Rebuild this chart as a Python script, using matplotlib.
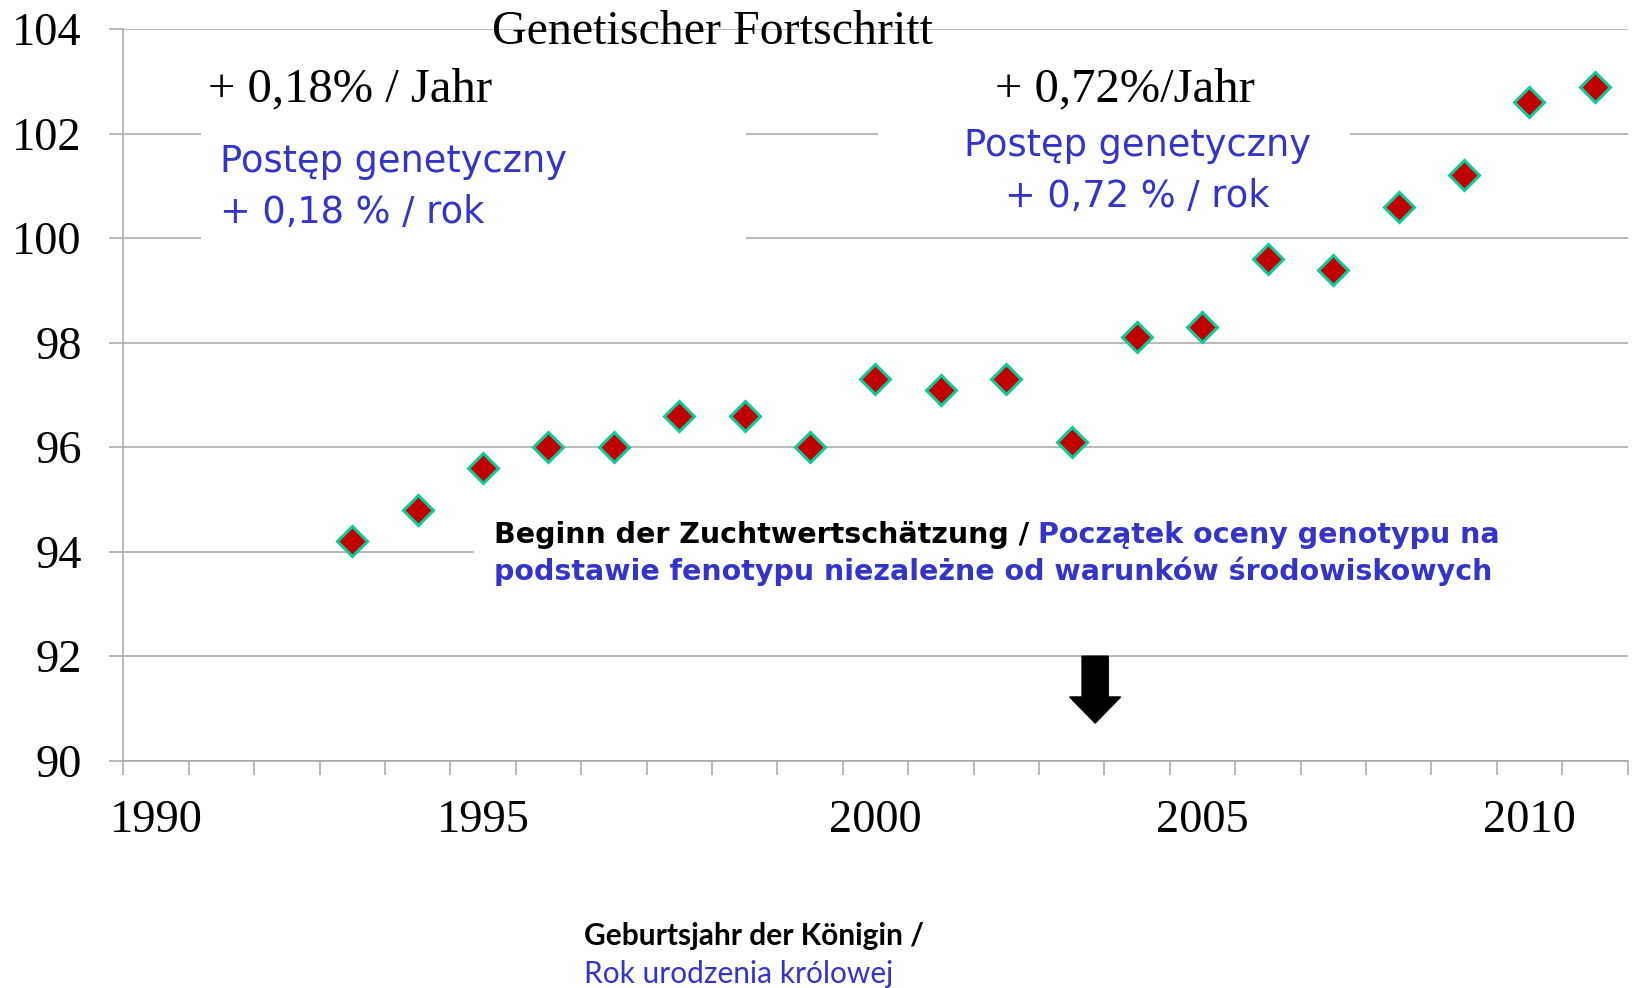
import numpy as np
import matplotlib
matplotlib.use("Agg")
import matplotlib.pyplot as plt
from matplotlib.patches import Rectangle, FancyArrow

# -----------------------------
# DANE
# -----------------------------

category_labels = ["1990", "", "", "", "", "1995", "", "", "", "", "",
                   "2000", "", "", "", "", "2005", "", "", "", "", "2010", ""]

# indeks hodowlany (brak danych dla pierwszych trzech kategorii)
values = [np.nan, np.nan, np.nan,
          94.2, 94.8, 95.6, 96.0, 96.0, 96.6, 96.6, 96.0, 97.3, 97.1,
          97.3, 96.1, 98.1, 98.3, 99.6, 99.4, 100.6, 101.2, 102.6, 102.9]

y_ticks = [90, 92, 94, 96, 98, 100, 102, 104]

title_de = "Genetischer Fortschritt"
rate_left_de = "+ 0,18% / Jahr"
rate_right_de = "+ 0,72%/Jahr"
rate_left_pl = "Postęp genetyczny\n+ 0,18 % / rok"
rate_right_pl = "Postęp genetyczny\n+ 0,72 % / rok"
note_de = "Beginn der Zuchtwertschätzung /"
note_pl_1 = "Początek oceny genotypu na"
note_pl_2 = "podstawie fenotypu niezależne od warunków środowiskowych"
xlabel_de = "Geburtsjahr der Königin /"
xlabel_pl = "Rok urodzenia królowej"

# -----------------------------
# STYL
# -----------------------------

W, H = 1634, 988
GRAY = "#A6A6A6"
BLUE = "#3434C8"
SERIF = "Liberation Serif"


def fx(x):
    return x / W


def fy(y):
    return 1 - y / H


fig = plt.figure(figsize=(W / 100, H / 100), dpi=100, facecolor="white")
ax = fig.add_axes([fx(123.3), fy(760.7), (1627.5 - 123.3) / W, (760.7 - 29.2) / H])

x = np.arange(len(category_labels))

ax.set_xlim(-0.5, len(category_labels) - 0.5)
ax.set_ylim(y_ticks[0], y_ticks[-1])

ax.set_yticks(y_ticks)
ax.set_yticklabels([str(v) for v in y_ticks], fontfamily=SERIF, fontsize=33.5)
ax.set_xticks(x)
ax.set_xticklabels(category_labels, fontfamily=SERIF, fontsize=33.5)
ax.set_xticks(np.arange(-0.5, len(category_labels), 1), minor=True)

ax.tick_params(axis="x", which="major", length=0, pad=28)
ax.tick_params(axis="x", which="minor", length=10, width=1.1, color=GRAY, direction="out")
ax.tick_params(axis="y", length=10, width=1.1, color=GRAY, direction="out", pad=20)

for s in ["top", "right"]:
    ax.spines[s].set_visible(False)
for s in ["left", "bottom"]:
    ax.spines[s].set_color(GRAY)
    ax.spines[s].set_linewidth(1.1)

ax.set_axisbelow(True)
ax.grid(axis="y", color=GRAY, linewidth=1.1)

# białe tła pól tekstowych zasłaniające linie siatki
ax.add_patch(Rectangle((0.69, 99.5), 9.02 - 0.69, 3.5, facecolor="white", edgecolor="none", zorder=1))
ax.add_patch(Rectangle((11.04, 100.4), 18.26 - 11.04, 2.6, facecolor="white", edgecolor="none", zorder=1))
ax.add_patch(Rectangle((4.86, 93.2), 20, 1.8, facecolor="white", edgecolor="none", zorder=1))

ax.plot(x, values, linestyle="none", marker="D", markersize=15.5,
        markerfacecolor="#C00000", markeredgecolor="#10C898", markeredgewidth=2.2,
        zorder=5, clip_on=False)

# strzałka - początek oceny
ax.add_patch(FancyArrow(14.36, 92.0, 0, -1.28, width=0.40, head_width=0.78,
                        head_length=0.50, length_includes_head=True,
                        color="black", zorder=6))

# -----------------------------
# TEKSTY
# -----------------------------

fig.text(fx(712), fy(32), title_de, fontfamily=SERIF, fontsize=34.5,
         ha="center", va="center")
fig.text(fx(208), fy(89), rate_left_de, fontfamily=SERIF, fontsize=35,
         ha="left", va="center")
fig.text(fx(995), fy(89), rate_right_de, fontfamily=SERIF, fontsize=35,
         ha="left", va="center")

fig.text(fx(220), fy(187), rate_left_pl, fontfamily="DejaVu Sans", fontsize=26.5,
         color=BLUE, ha="left", va="center", linespacing=1.5)
fig.text(fx(1137), fy(171), rate_right_pl, fontfamily="DejaVu Sans", fontsize=26.5,
         color=BLUE, ha="center", va="center", multialignment="center", linespacing=1.45)

t1 = fig.text(fx(494), fy(535), note_de, fontfamily="DejaVu Sans", fontsize=20.5,
              fontweight="bold", color="black", ha="left", va="center")
fig.canvas.draw()
bb = t1.get_window_extent(fig.canvas.get_renderer())
fig.text(fx(bb.x1 + 9), fy(535), note_pl_1, fontfamily="DejaVu Sans", fontsize=20.5,
         fontweight="bold", color=BLUE, ha="left", va="center")
fig.text(fx(494), fy(571), note_pl_2, fontfamily="DejaVu Sans", fontsize=20.5,
         fontweight="bold", color=BLUE, ha="left", va="center")

fig.text(fx(584), fy(936), xlabel_de, fontfamily="Lato", fontsize=21.5,
         fontweight="bold", color="black", ha="left", va="center")
fig.text(fx(584), fy(974), xlabel_pl, fontfamily="Lato", fontsize=21.5,
         color=BLUE, ha="left", va="center")

fig.savefig("out.png", dpi=100, facecolor="white")
